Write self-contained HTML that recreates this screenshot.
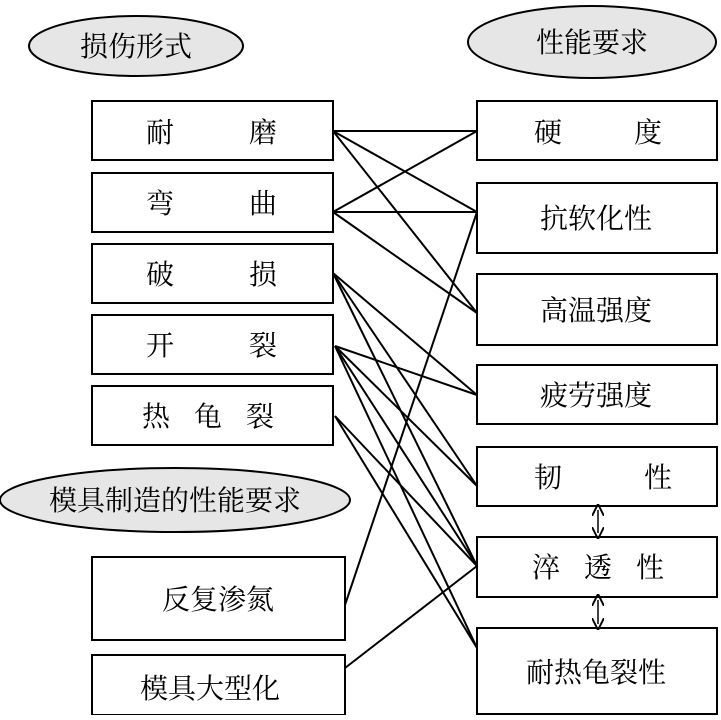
<!DOCTYPE html>
<html><head><meta charset="utf-8"><style>
html,body{margin:0;padding:0;background:#fff;}
svg text{font-family:"Liberation Serif","Noto Serif CJK SC","Noto Sans CJK SC",serif;font-size:28px;fill:#000;}
</style></head><body>
<svg width="721" height="715" viewBox="0 0 721 715" xmlns="http://www.w3.org/2000/svg">
<defs><marker id="a" markerWidth="8" markerHeight="8" refX="4" refY="4" orient="auto-start-reverse"><path d="M0,0 L8,4 L0,8" fill="none" stroke="#000" stroke-width="1.3"/></marker></defs>
<g fill="#e6e6e6" stroke="#000" stroke-width="2">
<ellipse cx="136" cy="46" rx="107" ry="30"/>
<ellipse cx="592" cy="42" rx="124" ry="36"/>
<ellipse cx="175" cy="500" rx="175" ry="32"/>
</g>
<g fill="none" stroke="#000" stroke-width="2">
<rect x="92" y="101" width="241" height="59"/>
<rect x="92" y="173" width="241" height="59"/>
<rect x="92" y="244" width="241" height="59"/>
<rect x="92" y="315" width="241" height="59"/>
<rect x="92" y="386" width="241" height="59"/>
<rect x="92" y="557" width="253" height="83"/>
<rect x="92" y="655" width="253" height="60"/>
<rect x="477" y="101" width="240" height="59"/>
<rect x="477" y="183" width="240" height="70"/>
<rect x="477" y="274" width="240" height="71"/>
<rect x="477" y="365" width="240" height="59"/>
<rect x="477" y="447" width="240" height="59"/>
<rect x="477" y="537" width="240" height="60"/>
<rect x="477" y="628" width="240" height="86"/>
</g>
<g stroke="#000" stroke-width="2">
<line x1="333" y1="131" x2="477" y2="131"/>
<line x1="333" y1="131" x2="477" y2="212"/>
<line x1="333" y1="131" x2="477" y2="313"/>
<line x1="333" y1="212" x2="477" y2="131"/>
<line x1="333" y1="212" x2="477" y2="212"/>
<line x1="333" y1="212" x2="477" y2="313"/>
<line x1="333" y1="273" x2="477" y2="395"/>
<line x1="333" y1="273" x2="477" y2="486"/>
<line x1="333" y1="273" x2="477" y2="566"/>
<line x1="335" y1="346" x2="477" y2="395"/>
<line x1="335" y1="346" x2="477" y2="486"/>
<line x1="335" y1="346" x2="477" y2="566"/>
<line x1="335" y1="346" x2="477" y2="648"/>
<line x1="335" y1="416" x2="477" y2="566"/>
<line x1="335" y1="416" x2="477" y2="648"/>
<line x1="345" y1="605" x2="477" y2="212"/>
<line x1="345" y1="668" x2="477" y2="566"/>
</g>
<g stroke="#000" stroke-width="1.5">
<line x1="598" y1="510" x2="598" y2="533" marker-start="url(#a)" marker-end="url(#a)"/>
<line x1="598" y1="600" x2="598" y2="624" marker-start="url(#a)" marker-end="url(#a)"/>
</g>
<g text-anchor="middle">
<text x="136" y="56">损伤形式</text>
<text x="592" y="52">性能要求</text>
<text x="175" y="510">模具制造的性能要求</text>
<text x="160" y="142">耐</text><text x="263" y="142">磨</text>
<text x="160" y="213">弯</text><text x="263" y="213">曲</text>
<text x="160" y="284">破</text><text x="263" y="284">损</text>
<text x="160" y="355">开</text><text x="263" y="355">裂</text>
<text x="156" y="426">热</text><text x="208" y="426">龟</text><text x="260" y="426">裂</text>
<text x="218" y="609">反复渗氮</text>
<text x="210" y="698">模具大型化</text>
<text x="548" y="142">硬</text><text x="648" y="142">度</text>
<text x="596" y="228">抗软化性</text>
<text x="596" y="320">高温强度</text>
<text x="596" y="405">疲劳强度</text>
<text x="548" y="487">韧</text><text x="658" y="487">性</text>
<text x="546" y="577">淬</text><text x="598" y="577">透</text><text x="650" y="577">性</text>
<text x="596" y="682">耐热龟裂性</text>
</g>
</svg>
</body></html>
